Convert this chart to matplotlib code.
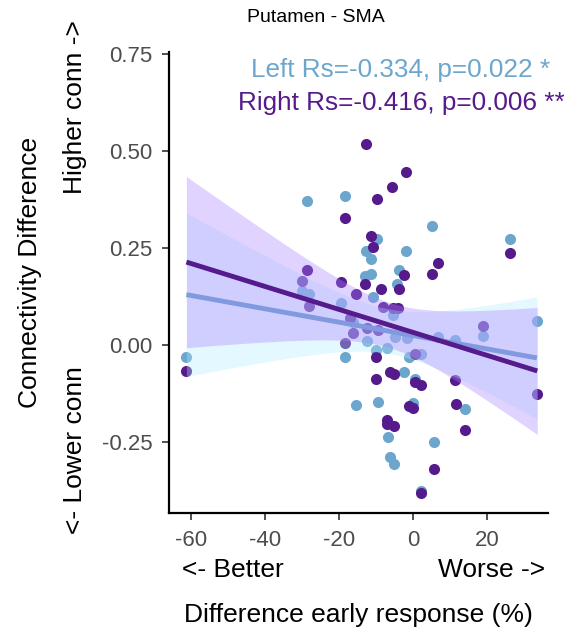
import matplotlib
matplotlib.use("Agg")
import matplotlib.pyplot as plt
import numpy as np

plt.rcParams["font.family"] = ["Liberation Sans", "DejaVu Sans"]

# Left hemisphere (Putamen - SMA)
left_x = [-28.5, -18.3, -30.1, -28.0, -19.3, 5.2, 26.2, -9.8, -12.7, -1.8,
          -11.4, -3.7, -11.4, -13.0, -4.4, -10.9, -5.4, 33.5, -16.1, -4.9,
          -1.7, 6.8, 11.4, 19.0, -18.4, -12.5, -10.0, -7.1, -1.0, 2.1,
          -2.4, 0.5, -15.5, -9.4, 0.1, 14.1, -6.7, 5.8, -6.2, -5.1,
          2.1, -61.2]
left_y = [0.370, 0.385, 0.140, 0.131, 0.109, 0.306, 0.274, 0.272, 0.242, 0.242,
          0.222, 0.193, 0.183, 0.179, 0.158, 0.124, 0.077, 0.062, 0.060, 0.021,
          0.017, 0.021, 0.013, 0.023, -0.032, 0.011, -0.013, -0.009, -0.030, -0.023,
          -0.069, -0.087, -0.155, -0.146, -0.149, -0.164, -0.236, -0.251, -0.288, -0.307,
          -0.376, -0.030]

# Right hemisphere
right_x = [-18.3, -28.5, -30.1, -19.5, -15.4, -28.2, -17.0, -12.7, -1.8, -5.7,
           -9.8, 26.2, -11.4, -10.9, 6.8, -2.5, 5.2, -13.0, -8.6, -3.7,
           -8.0, -5.3, -4.0, -16.1, -12.5, -9.4, 19.0, 33.6, -18.4, -10.0,
           0.5, -6.2, -5.1, -10.0, 2.1, 0.5, 11.4, -1.0, 0.1, 11.6,
           -6.9, -7.1, -5.1, 14.1, 5.8, 2.1, -61.2]
right_y = [0.326, 0.193, 0.166, 0.162, 0.131, 0.101, 0.070, 0.519, 0.445, 0.408,
           0.376, 0.237, 0.282, 0.252, 0.212, 0.181, 0.182, 0.158, 0.143, 0.143,
           0.097, 0.094, 0.094, 0.030, 0.043, 0.039, 0.049, -0.127, 0.004, -0.030,
           -0.024, -0.069, -0.075, -0.088, -0.103, -0.095, -0.090, -0.157, -0.163, -0.152,
           -0.193, -0.204, -0.209, -0.219, -0.320, -0.382, -0.066]

LEFT_COL = "#6CA6CD"    # skyblue3
RIGHT_COL = "#551A8B"   # purple4
LEFT_FILL = "#B2EBFF"
RIGHT_FILL = "#AB82FF"


def lm_band(x, y, n_grid=80, t=2.015):
    x = np.asarray(x, float)
    y = np.asarray(y, float)
    b, a = np.polyfit(x, y, 1)
    xs = np.linspace(x.min(), x.max(), n_grid)
    fit = a + b * xs
    res = y - (a + b * x)
    s = np.sqrt(np.sum(res ** 2) / (len(x) - 2))
    se = s * np.sqrt(1 / len(x) + (xs - x.mean()) ** 2 / np.sum((x - x.mean()) ** 2))
    return xs, fit, fit - t * se, fit + t * se


fig = plt.figure(figsize=(5.64, 6.39), dpi=100)
W, H = 564, 639
ax = fig.add_axes([169 / W, 1 - 513 / H, (548 - 169) / W, (513 - 52) / H])

ax.scatter(left_x, left_y, s=64, color=LEFT_COL, lw=0, zorder=2)
ax.scatter(right_x, right_y, s=64, color=RIGHT_COL, lw=0, zorder=2)

# regression + 95% band, drawn over the points like ggplot does
xs, fit, lo, hi = lm_band(left_x, left_y)
ax.fill_between(xs, lo, hi, color=LEFT_FILL, alpha=0.35, lw=0, zorder=3)
ax.plot(xs, fit, color=LEFT_COL, lw=3.5, zorder=4, solid_capstyle="butt")

xs, fit, lo, hi = lm_band(right_x, right_y)
ax.fill_between(xs, lo, hi, color=RIGHT_FILL, alpha=0.35, lw=0, zorder=5)
ax.plot(xs, fit, color=RIGHT_COL, lw=3.5, zorder=6, solid_capstyle="butt")

ax.set_xlim(-65.9, 36.5)
ax.set_ylim(-0.433, 0.755)
ax.set_xticks([-60, -40, -20, 0, 20])
ax.set_yticks([-0.25, 0.0, 0.25, 0.5, 0.75])
ax.set_xticklabels(["-60", "-40", "-20", "0", "20"])
ax.set_yticklabels(["-0.25", "0.00", "0.25", "0.50", "0.75"])
ax.tick_params(colors="#333333", labelcolor="#4D4D4D", labelsize=16,
               length=5, width=1.2, pad=7)
for side in ["top", "right"]:
    ax.spines[side].set_visible(False)
for side in ["left", "bottom"]:
    ax.spines[side].set_linewidth(1.6)

# stats text
ax.text(401 / W, 1 - 70 / H, "Left Rs=-0.334, p=0.022 *", transform=fig.transFigure,
        ha="center", va="center", fontsize=18.8, color=LEFT_COL)
ax.text(401 / W, 1 - 103 / H, "Right Rs=-0.416, p=0.006 **", transform=fig.transFigure,
        ha="center", va="center", fontsize=18.8, color=RIGHT_COL)

fig.text(316 / W, 1 - 18 / H, "Putamen - SMA", ha="center", va="center", fontsize=14)

# axis labels
fig.text(30 / W, 1 - 272 / H, "Connectivity Difference", rotation=90,
         ha="center", va="center", fontsize=19)
fig.text(75 / W, 1 - 107 / H, "Higher conn ->", rotation=90,
         ha="center", va="center", fontsize=19)
fig.text(75 / W, 1 - 450 / H, "<- Lower conn", rotation=90,
         ha="center", va="center", fontsize=19)
fig.text(182 / W, 1 - 570 / H, "<- Better", ha="left", va="center", fontsize=19)
fig.text(545 / W, 1 - 570 / H, "Worse ->", ha="right", va="center", fontsize=19)
fig.text(358 / W, 1 - 615 / H, "Difference early response (%)",
         ha="center", va="center", fontsize=19)

fig.savefig("out.png", dpi=100)
